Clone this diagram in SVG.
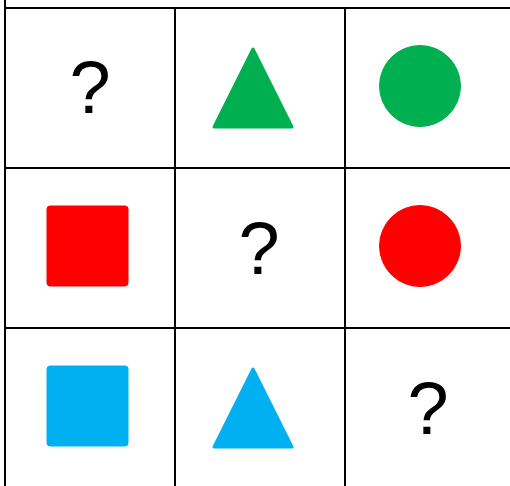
<svg xmlns="http://www.w3.org/2000/svg" width="510" height="486" viewBox="0 0 510 486">
<style>
.grid{stroke:#000;stroke-width:2;fill:none}
.q{font-family:"Liberation Sans",Arial,sans-serif;font-size:74px;fill:#000;text-anchor:middle}
.green{fill:#00B050;stroke:#00B050}
.red{fill:#FF0000;stroke:#FF0000}
.blue{fill:#00B0F0;stroke:#00B0F0}
.tri{stroke-width:3;stroke-linejoin:round}
</style>
<rect width="510" height="486" fill="#fff"/>
<g id="grid" class="grid">
<line x1="5" y1="0" x2="5" y2="486"/>
<line x1="175" y1="8" x2="175" y2="486"/>
<line x1="345" y1="8" x2="345" y2="486"/>
<line x1="5" y1="8" x2="510" y2="8"/>
<line x1="5" y1="168" x2="510" y2="168"/>
<line x1="5" y1="328" x2="510" y2="328"/>
</g>
<g id="cell-1-1"><text class="q" x="90" y="113">?</text></g>
<g id="cell-1-2"><polygon class="green tri" points="253,49 214,127 292,127"/></g>
<g id="cell-1-3"><circle class="green" cx="420" cy="86" r="40.5" stroke="none"/></g>
<g id="cell-2-1"><rect class="red" x="47" y="206" width="81" height="80" rx="3" stroke="none"/></g>
<g id="cell-2-2"><text class="q" x="259" y="274">?</text></g>
<g id="cell-2-3"><circle class="red" cx="420" cy="246" r="40.5" stroke="none"/></g>
<g id="cell-3-1"><rect class="blue" x="47" y="366" width="81" height="80" rx="3" stroke="none"/></g>
<g id="cell-3-2"><polygon class="blue tri" points="253,369 214,447 292,447"/></g>
<g id="cell-3-3"><text class="q" x="428" y="434">?</text></g>
</svg>
